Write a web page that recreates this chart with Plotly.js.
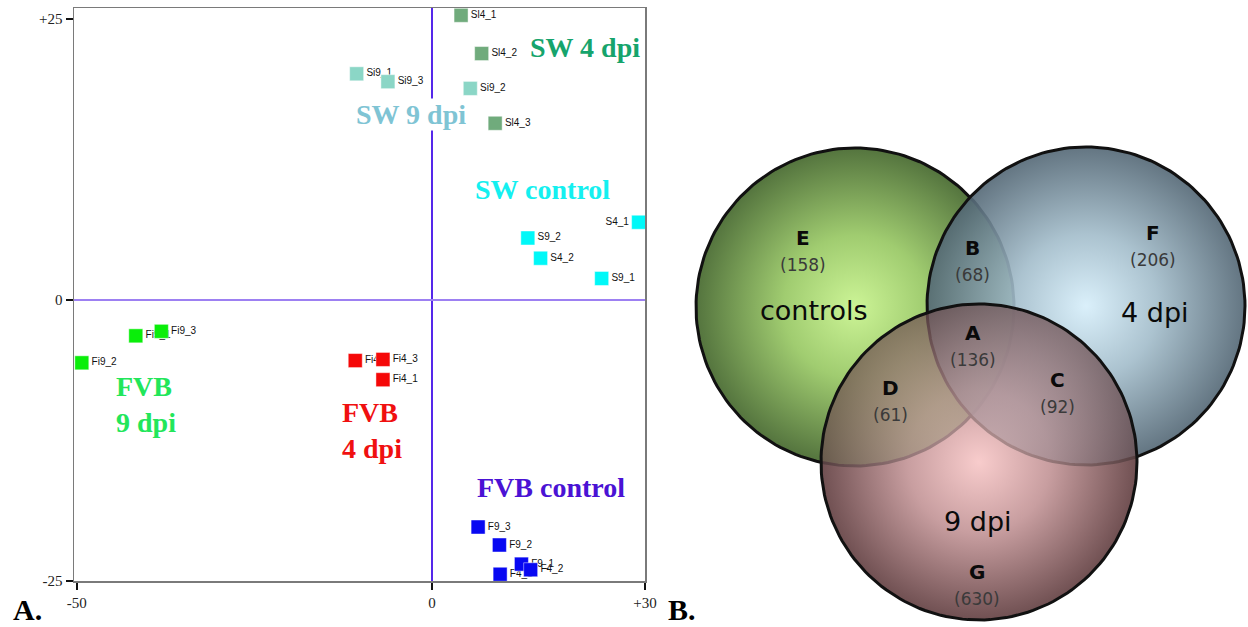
<!DOCTYPE html>
<html><head><meta charset="utf-8">
<script src="https://cdn.plot.ly/plotly-3.0.1.min.js"></script>
<style>html,body{margin:0;padding:0;background:#fff;}#chart{width:1248px;height:627px;}</style>
</head><body><div id="chart"></div>
<script>
// ---------- Panel A data (PCA-like scatter) ----------
const groupNames = ['SW 4 dpi', 'SW 9 dpi', 'SW control', 'FVB 9 dpi', 'FVB 4 dpi', 'FVB control'];

const sw4Labels = ['Sl4_1', 'Sl4_2', 'Sl4_3'];
const sw4X = [4.1, 7.0, 8.9];
const sw4Y = [25.3, 21.9, 15.7];

const sw9Labels = ['Si9_1', 'Si9_3', 'Si9_2'];
const sw9X = [-10.6, -6.2, 5.4];
const sw9Y = [20.1, 19.4, 18.8];

const swcLabels = ['S4_1', 'S9_2', 'S4_2', 'S9_1'];
const swcX = [29.1, 13.5, 15.3, 23.9];
const swcY = [6.9, 5.5, 3.7, 1.9];

const fvb9Labels = ['Fi9_2', 'Fi9_1', 'Fi9_3'];
const fvb9X = [-49.3, -41.7, -38.1];
const fvb9Y = [-5.6, -3.2, -2.8];

const fvb4Labels = ['Fi4_2', 'Fi4_1', 'Fi4_3'];
const fvb4X = [-10.8, -6.9, -6.9];
const fvb4Y = [-5.4, -7.1, -5.3];

const fvbcLabels = ['F9_3', 'F9_2', 'F9_1', 'F4_1', 'F4_2'];
const fvbcX = [6.5, 9.5, 12.6, 9.6, 13.9];
const fvbcY = [-20.2, -21.8, -23.5, -24.4, -24.0];

const xTickVals = [-50, 0, 30];
const xTickText = ['-50', '0', '+30'];
const yTickVals = [25, 0, -25];
const yTickText = ['+25', '0', '-25'];

// ---------- Panel B data (Venn diagram) ----------
const vennSets = ['controls', '4 dpi', '9 dpi'];
const vennRegionLetters = ['E', 'B', 'F', 'A', 'D', 'C', 'G'];
const vennRegionCounts = [158, 68, 206, 136, 61, 92, 630];

// ---------- styles / layout geometry ----------
const groupData = [
  {labels: sw4Labels, x: sw4X, y: sw4Y},
  {labels: sw9Labels, x: sw9X, y: sw9Y},
  {labels: swcLabels, x: swcX, y: swcY},
  {labels: fvb9Labels, x: fvb9X, y: fvb9Y},
  {labels: fvb4Labels, x: fvb4X, y: fvb4Y},
  {labels: fvbcLabels, x: fvbcX, y: fvbcY}
];
const markerColors = ['#70ab7c', '#8bd6c6', '#00f8f8', '#0aee0a', '#f50808', '#0808f2'];
const labelColors = ['#16a46c', '#7fc4d4', '#14f0f0', '#22e65a', '#f01010', '#4a12d4'];
const groupLabelPos = [
  {x: 21.5, y: 22.4, xa: 'center'},
  {x: -3.0, y: 16.45, xa: 'center'},
  {x: 15.5, y: 9.8, xa: 'center'},
  {x: -44.6, y: -9.3, xa: 'left'},
  {x: -12.8, y: -11.6, xa: 'left'},
  {x: 16.7, y: -16.7, xa: 'center'}
];

// circle geometry in pixel units of panel B axes
const circleGeom = [
  {cx: 855, cy: 307, r: 159},
  {cx: 1086, cy: 306, r: 159},
  {cx: 979, cy: 462, r: 158}
];
const circleScales = [
  [[0, 'rgba(204,244,150,1)'], [0.45, 'rgba(160,204,112,1)'], [1, 'rgba(84,116,62,1)']],
  [[0, 'rgba(214,238,250,0.9)'], [0.45, 'rgba(162,188,202,0.9)'], [1, 'rgba(82,102,116,0.9)']],
  [[0, 'rgba(248,204,204,0.72)'], [0.45, 'rgba(200,158,160,0.72)'], [1, 'rgba(112,80,82,0.72)']]
];
const pinkUnder = [[0, 'rgb(248,204,204)'], [0.45, 'rgb(200,158,160)'], [1, 'rgb(112,80,82)']];
const regionPos = [[803, 238], [973, 248], [1153, 233], [973, 333], [891, 388], [1057, 380], [977, 572]];
const setPos = [[814, 310], [1155, 312], [978, 521]];

function circlePath(g) {
  const xs = [], ys = [];
  for (let i = 0; i <= 180; i++) {
    const t = 2 * Math.PI * i / 180;
    xs.push(g.cx + g.r * Math.cos(t));
    ys.push(g.cy + g.r * Math.sin(t));
  }
  return {xs, ys};
}

const traces = [];
// labels (drawn first so markers may cover them)
groupData.forEach((g, i) => {
  traces.push({
    type: 'scatter', mode: 'markers+text', x: g.x, y: g.y, text: g.labels,
    textposition: g.labels.map(l => l === 'S4_1' ? 'middle left' : 'middle right'),
    textfont: {family: 'Liberation Sans, Arial', size: 10, color: '#111'},
    marker: {symbol: 'square', size: 14, color: 'rgba(0,0,0,0)'},
    cliponaxis: false, hoverinfo: 'skip', showlegend: false, xaxis: 'x', yaxis: 'y'
  });
});
groupData.forEach((g, i) => {
  traces.push({
    type: 'scatter', mode: 'markers', x: g.x, y: g.y, name: groupNames[i],
    marker: {symbol: 'square', size: 14, color: markerColors[i], line: {width: 1, color: 'rgba(255,255,255,0.45)'}},
    cliponaxis: false, hoverinfo: 'skip', showlegend: false, xaxis: 'x', yaxis: 'y'
  });
});

// Venn: opaque underlay for 9 dpi
{
  const p = circlePath(circleGeom[2]);
  traces.push({
    type: 'scatter', mode: 'none', x: p.xs, y: p.ys, fill: 'toself',
    fillgradient: {type: 'radial', colorscale: pinkUnder},
    hoverinfo: 'skip', showlegend: false, xaxis: 'x2', yaxis: 'y2', cliponaxis: false
  });
}
circleGeom.forEach((g, i) => {
  const p = circlePath(g);
  traces.push({
    type: 'scatter', mode: 'lines', x: p.xs, y: p.ys, fill: 'toself', name: vennSets[i],
    fillgradient: {type: 'radial', colorscale: circleScales[i]},
    line: {color: '#111', width: 3}, hoverinfo: 'skip', showlegend: false,
    xaxis: 'x2', yaxis: 'y2', cliponaxis: false
  });
});

const annotations = [];
groupNames.forEach((n, i) => {
  const txt = (n === 'FVB 9 dpi' || n === 'FVB 4 dpi') ? n.replace(' ', '<br>') : n;
  annotations.push({
    xref: 'x', yref: 'y', x: groupLabelPos[i].x, y: groupLabelPos[i].y, text: txt,
    showarrow: false, xanchor: groupLabelPos[i].xa, yanchor: 'middle', align: 'left',
    font: {family: 'Liberation Serif, Times New Roman', size: 28, weight: 'bold', color: labelColors[i]},
    bgcolor: 'white', borderpad: 0
  });
});
vennRegionLetters.forEach((L, i) => {
  annotations.push({
    xref: 'x2', yref: 'y2', x: regionPos[i][0], y: regionPos[i][1], text: L, showarrow: false,
    font: {family: 'DejaVu Sans, Arial', size: 20, weight: 'bold', color: '#0a0a0a'}
  });
  annotations.push({
    xref: 'x2', yref: 'y2', x: regionPos[i][0], y: regionPos[i][1] + 27, text: '(' + vennRegionCounts[i] + ')', showarrow: false,
    font: {family: 'DejaVu Sans, Arial', size: 17, color: '#3a3a3a'}
  });
});
vennSets.forEach((s, i) => {
  annotations.push({
    xref: 'x2', yref: 'y2', x: setPos[i][0], y: setPos[i][1], text: s, showarrow: false,
    font: {family: 'DejaVu Sans, Arial', size: 27, color: '#0a0a0a'}
  });
});
annotations.push({xref: 'paper', yref: 'paper', x: 27 / 1248, y: 1 - 609 / 627, text: 'A.', showarrow: false,
  xanchor: 'center', yanchor: 'middle', font: {family: 'Liberation Serif, Times New Roman', size: 30, weight: 'bold', color: '#000'}});
annotations.push({xref: 'paper', yref: 'paper', x: 682 / 1248, y: 1 - 609 / 627, text: 'B.', showarrow: false,
  xanchor: 'center', yanchor: 'middle', font: {family: 'Liberation Serif, Times New Roman', size: 30, weight: 'bold', color: '#000'}});

const axisCommon = {
  showgrid: false, showline: true, mirror: true, linecolor: '#7a7a7a', linewidth: 1.5,
  ticks: 'outside', ticklen: 7, tickwidth: 2, tickcolor: '#111',
  tickfont: {family: 'Liberation Serif, Times New Roman', size: 15, color: '#222'},
  zeroline: true, fixedrange: true
};

const layout = {
  width: 1248, height: 627, autosize: false,
  margin: {l: 0, r: 0, t: 0, b: 0, pad: 0},
  paper_bgcolor: '#fff', plot_bgcolor: 'rgba(0,0,0,0)',
  showlegend: false,
  xaxis: Object.assign({}, axisCommon, {
    domain: [74 / 1248, 645 / 1248], range: [-50.4, 30], anchor: 'y',
    tickmode: 'array', tickvals: xTickVals, ticktext: xTickText,
    zerolinecolor: '#5528ea', zerolinewidth: 1.2
  }),
  yaxis: Object.assign({}, axisCommon, {
    domain: [1 - 581 / 627, 1 - 8 / 627], range: [-25, 25.95], anchor: 'x',
    tickmode: 'array', tickvals: yTickVals, ticktext: yTickText,
    zerolinecolor: '#9d80f2', zerolinewidth: 2
  }),
  xaxis2: {domain: [680 / 1248, 1], range: [680, 1248], visible: false, anchor: 'y2', fixedrange: true},
  yaxis2: {domain: [0, 1], range: [627, 0], visible: false, anchor: 'x2', fixedrange: true},
  annotations: annotations
};

Plotly.newPlot('chart', traces, layout, {displayModeBar: false, staticPlot: true});
</script>
</body></html>
